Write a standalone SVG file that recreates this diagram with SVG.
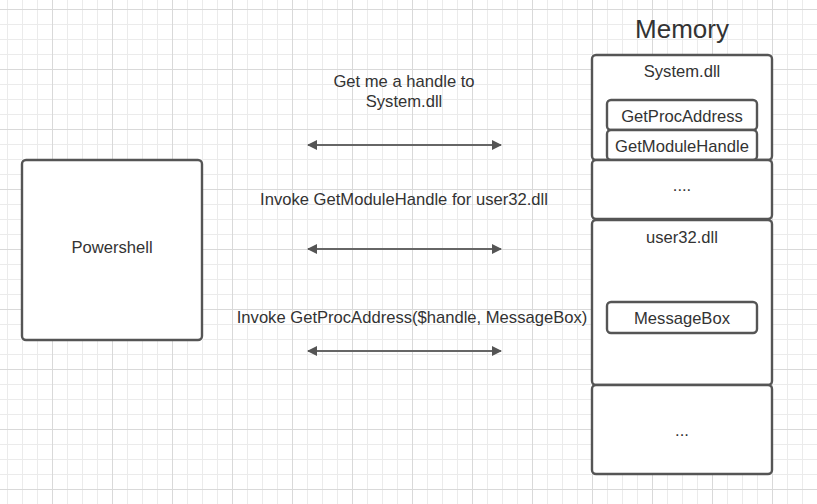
<svg xmlns="http://www.w3.org/2000/svg" width="817" height="504" viewBox="0 0 817 504">
<defs>
<pattern id="minor" x="7" y="9" width="15" height="15" patternUnits="userSpaceOnUse">
<path d="M0.5 0V15M0 0.5H15" stroke="#ebebeb" stroke-width="1" fill="none"/>
</pattern>
<pattern id="major" x="52" y="9" width="60" height="60" patternUnits="userSpaceOnUse">
<path d="M0.5 0V60M0 0.5H60" stroke="#d9d9d9" stroke-width="1" fill="none"/>
</pattern>
<marker id="ah" viewBox="0 0 10 10" refX="9" refY="5" markerWidth="13" markerHeight="10" markerUnits="userSpaceOnUse" orient="auto-start-reverse">
<path d="M0 0L10 5L0 10z" fill="#555"/>
</marker>
<style>
.box{fill:#fff;stroke:#555;stroke-width:2.4}
.t{font-family:"Liberation Sans",Arial,sans-serif;font-size:16.6px;fill:#333;text-anchor:middle}
.conn{stroke:#666;stroke-width:2.2;fill:none;marker-start:url(#ah);marker-end:url(#ah)}
</style>
</defs>
<rect width="817" height="504" fill="#fff"/>
<rect width="817" height="504" fill="url(#minor)"/>
<rect width="817" height="504" fill="url(#major)"/>

<text class="t" x="682" y="38" style="font-size:26px">Memory</text>

<g id="powershell">
<rect class="box" x="22" y="160" width="180" height="180" rx="4"/>
<text class="t" x="112" y="253">Powershell</text>
</g>

<g id="system-dll">
<rect class="box" x="592" y="55" width="180" height="105" rx="4"/>
<text class="t" x="682" y="77">System.dll</text>
</g>
<g id="getprocaddress">
<rect class="box" x="607" y="100" width="150" height="30" rx="4"/>
<text class="t" x="682" y="122">GetProcAddress</text>
</g>
<g id="getmodulehandle">
<rect class="box" x="607" y="130" width="150" height="30" rx="4"/>
<text class="t" x="682" y="152">GetModuleHandle</text>
</g>
<g id="dots1">
<rect class="box" x="592" y="160" width="180" height="59" rx="4"/>
<text class="t" x="682" y="191">....</text>
</g>
<g id="user32-dll">
<rect class="box" x="592" y="220" width="180" height="165" rx="4"/>
<text class="t" x="682" y="243">user32.dll</text>
</g>
<g id="messagebox">
<rect class="box" x="607" y="302" width="150" height="31" rx="4"/>
<text class="t" x="682" y="324">MessageBox</text>
</g>
<g id="dots2">
<rect class="box" x="592" y="385" width="180" height="89" rx="4"/>
<text class="t" x="682" y="436">...</text>
</g>

<g id="connectors">
<line class="conn" x1="308" y1="145" x2="501" y2="145"/>
<line class="conn" x1="308" y1="249" x2="501" y2="249"/>
<line class="conn" x1="308" y1="351" x2="501" y2="351"/>
</g>
<g id="labels">
<text class="t" x="404" y="87">Get me a handle to</text>
<text class="t" x="404" y="107">System.dll</text>
<text class="t" x="404" y="205">Invoke GetModuleHandle for user32.dll</text>
<text class="t" x="412" y="323">Invoke GetProcAddress($handle, MessageBox)</text>
</g>
</svg>
